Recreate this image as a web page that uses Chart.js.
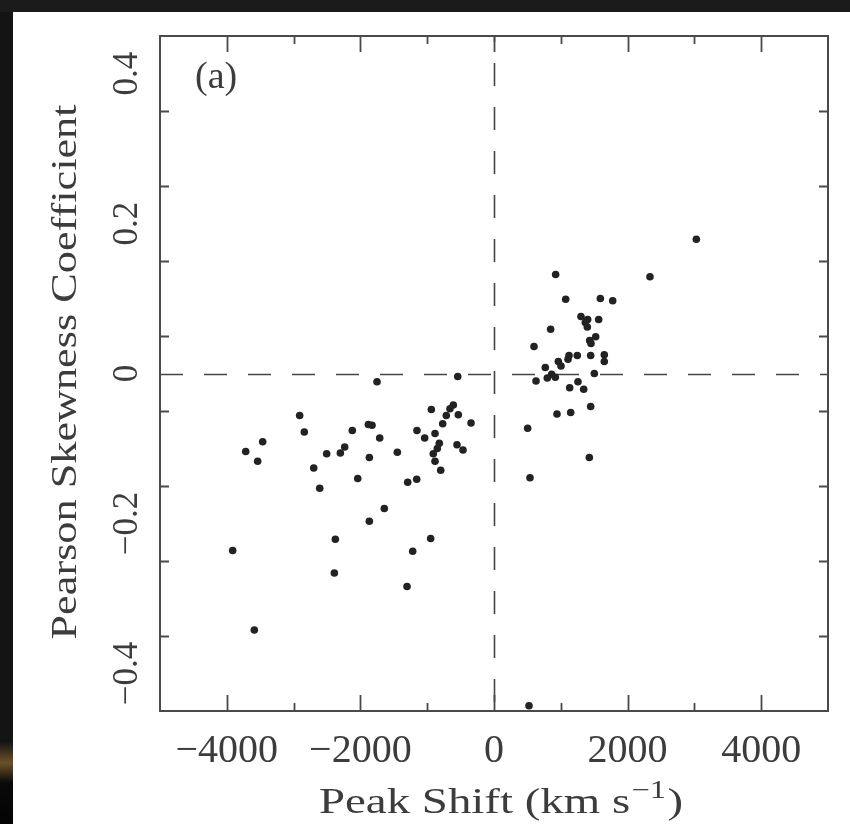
<!DOCTYPE html>
<html>
<head>
<meta charset="utf-8">
<title>Pearson skewness vs peak shift</title>
<script src="https://cdn.jsdelivr.net/npm/chart.js@4.4.1/dist/chart.umd.min.js"></script>
<style>
    html, body { margin: 0; padding: 0; background: #111; overflow: hidden; }
    canvas { display: block; }
</style>
</head>
<body>
<canvas id="skewChart" width="850" height="824"></canvas>
<script>
// peak shift (km/s) and Pearson skewness coefficient
const peakShift = [
    -543, -1751, -2909, -2840, -3463, -3717, -3538, -2699, -2609, -2505, -2300, -2235,
    -2121, -1881, -1826, -1866, -1711, -2040, -1642, -1866, -2375, -2390, -3912, -1302,
    -1217, -948, -1447, -1292, -1157, -1153, -1038, -938, -883, -819, -849, -909,
    -883, -798, -768, -714, -659, -609, -534, -344, -554, -464, -3588,
    524, 3029, 2335, 923, 1073, 1592, 1777, 1302, 1402, 1367, 1397, 1567,
    848, 1522, 1432, 1452, 599, 1123, 1108, 1247, 1447, 1651, 1651, 963,
    1003, 768, 629, 798, 863, 918, 1502, 1257, 1133, 1343, 943, 1148,
    1447, 504, 1427, 539
];
const pearsonSkew = [
    -0.004, -0.011, -0.056, -0.078, -0.091, -0.104, -0.117, -0.126, -0.153, -0.107, -0.106, -0.098,
    -0.076, -0.068, -0.069, -0.112, -0.086, -0.140, -0.180, -0.197, -0.221, -0.266, -0.236, -0.284,
    -0.237, -0.220, -0.105, -0.145, -0.141, -0.076, -0.086, -0.048, -0.080, -0.093, -0.100, -0.107,
    -0.117, -0.129, -0.067, -0.056, -0.047, -0.042, -0.055, -0.066, -0.095, -0.102, -0.342,
    -0.443, 0.179, 0.129, 0.132, 0.099, 0.100, 0.097, 0.076, 0.072, 0.068, 0.062, 0.072,
    0.059, 0.049, 0.044, 0.040, 0.036, 0.024, 0.019, 0.024, 0.024, 0.025, 0.016, 0.016,
    0.010, 0.008, -0.010, -0.006, -0.001, -0.005, 0.000, -0.011, -0.019, -0.021, -0.054, -0.052,
    -0.044, -0.073, -0.112, -0.139
];

// labelled ticks
const xTickValues = [-4000, -2000, 0, 2000, 4000];
const xTickLabels = ['\u22124000', '\u22122000', '0', '2000', '4000'];
const yTickValues = [-0.4, -0.2, 0, 0.2, 0.4];
const yTickLabels = ['\u22120.4', '\u22120.2', '0', '0.2', '0.4'];

const xTitle = 'Peak Shift (km s';
const xTitleSup = '\u22121';
const yTitle = 'Pearson Skewness Coefficient';
const panelLabel = '(a)';

const INK = '#3c3c3c';
const FRAME = '#4a4a4a';
const SERIF = '"Liberation Serif", "DejaVu Serif", serif';

function isMajor(v, list) {
    return list.some(m => Math.abs(m - v) < 1e-6);
}

// slide background + white page behind the figure
const pagePlugin = {
    id: 'page',
    beforeDraw(chart) {
        const ctx = chart.ctx;
        const w = chart.width, h = chart.height;
        ctx.save();
        ctx.fillStyle = '#fff';
        ctx.fillRect(0, 0, w, h);
        ctx.fillStyle = '#1b1b1b';
        ctx.fillRect(0, 0, w, 12);
        const g = ctx.createLinearGradient(0, 0, 0, h);
        g.addColorStop(0, '#141414');
        g.addColorStop(0.9, '#141414');
        g.addColorStop(0.926, '#6b5128');
        g.addColorStop(0.95, '#0a0a0a');
        g.addColorStop(1, '#030303');
        ctx.fillStyle = g;
        ctx.fillRect(0, 12, 13, h - 12);
        ctx.restore();
    }
};

// frame, inward ticks, zero lines and all text
const axesPlugin = {
    id: 'axesFrame',
    beforeDatasetsDraw(chart) {
        const { ctx, chartArea: a, scales: { x, y } } = chart;
        ctx.save();

        // dashed zero lines
        ctx.strokeStyle = '#444';
        ctx.lineWidth = 1.6;
        ctx.setLineDash([23, 21]);
        const y0 = Math.round(y.getPixelForValue(0)) + 0.5;
        ctx.lineDashOffset = 0;
        ctx.beginPath();
        ctx.moveTo(a.left, y0);
        ctx.lineTo(a.right, y0);
        ctx.stroke();
        const x0 = Math.round(x.getPixelForValue(0)) + 0.5;
        ctx.lineDashOffset = 17;
        ctx.beginPath();
        ctx.moveTo(x0, a.top);
        ctx.lineTo(x0, a.bottom);
        ctx.stroke();
        ctx.setLineDash([]);

        // frame
        ctx.strokeStyle = FRAME;
        ctx.lineWidth = 2;
        ctx.strokeRect(a.left, a.top, a.right - a.left, a.bottom - a.top);

        // ticks pointing inwards on all four sides
        ctx.lineWidth = 1.8;
        ctx.beginPath();
        x.ticks.forEach(t => {
            if (t.value <= x.min || t.value >= x.max) return;
            const px = Math.round(x.getPixelForValue(t.value)) + 0.5;
            const len = isMajor(t.value, xTickValues) ? 16 : 8;
            ctx.moveTo(px, a.bottom);
            ctx.lineTo(px, a.bottom - len);
            ctx.moveTo(px, a.top);
            ctx.lineTo(px, a.top + len);
        });
        y.ticks.forEach(t => {
            if (t.value <= y.min || t.value >= y.max) return;
            const py = Math.round(y.getPixelForValue(t.value)) + 0.5;
            const len = isMajor(t.value, yTickValues) ? 16 : 9;
            ctx.moveTo(a.left, py);
            ctx.lineTo(a.left + len, py);
            ctx.moveTo(a.right, py);
            ctx.lineTo(a.right - len, py);
        });
        ctx.stroke();

        ctx.fillStyle = INK;

        // x tick labels
        ctx.font = '40px ' + SERIF;
        ctx.textAlign = 'center';
        ctx.textBaseline = 'alphabetic';
        xTickValues.forEach((v, i) => {
            ctx.fillText(xTickLabels[i], x.getPixelForValue(v), 762);
        });

        // y tick labels, rotated
        ctx.font = '35px ' + SERIF;
        yTickValues.forEach((v, i) => {
            ctx.save();
            ctx.translate(137, y.getPixelForValue(v));
            ctx.rotate(-Math.PI / 2);
            ctx.textAlign = 'center';
            ctx.fillText(yTickLabels[i], 0, 0);
            ctx.restore();
        });

        // x title with superscript, fitted to the original width
        ctx.save();
        ctx.font = '36px ' + SERIF;
        const mainW = ctx.measureText(xTitle).width;
        ctx.font = '25px ' + SERIF;
        const supW = ctx.measureText(xTitleSup).width;
        ctx.font = '36px ' + SERIF;
        const closeW = ctx.measureText(')').width;
        const totalW = mainW + supW + 2 + closeW;
        const sx = 364 / totalW;
        ctx.translate(319, 813);
        ctx.scale(sx, 1);
        ctx.textAlign = 'left';
        ctx.fillText(xTitle, 0, 0);
        ctx.font = '25px ' + SERIF;
        ctx.fillText(xTitleSup, mainW + 1, -15);
        ctx.font = '36px ' + SERIF;
        ctx.fillText(')', mainW + supW + 2, 0);
        ctx.restore();

        // y title, rotated
        ctx.save();
        ctx.font = '36px ' + SERIF;
        const yw = ctx.measureText(yTitle).width;
        ctx.translate(76, 372);
        ctx.rotate(-Math.PI / 2);
        ctx.scale(535 / yw, 1);
        ctx.textAlign = 'center';
        ctx.fillText(yTitle, 0, 0);
        ctx.restore();

        // panel label
        ctx.font = '38px ' + SERIF;
        ctx.textAlign = 'left';
        ctx.fillText(panelLabel, 195, 88);

        ctx.restore();
    }
};

const points = peakShift.map((v, i) => ({ x: v, y: pearsonSkew[i] }));

new Chart(document.getElementById('skewChart'), {
    type: 'scatter',
    data: {
        datasets: [{
            label: 'Pearson skewness',
            data: points,
            backgroundColor: '#222',
            borderWidth: 0,
            pointRadius: 3.8,
            pointHoverRadius: 3.8
        }]
    },
    options: {
        responsive: false,
        animation: false,
        devicePixelRatio: 1,
        // the two hidden axes still take 8px each, so pad a bit less
        layout: { padding: { left: 152, top: 36, right: 22, bottom: 105 } },
        plugins: {
            legend: { display: false },
            tooltip: { enabled: false }
        },
        scales: {
            x: {
                type: 'linear',
                min: -5000,
                max: 5000,
                grid: { display: false },
                border: { display: false },
                ticks: { display: false, stepSize: 1000 },
                title: { display: false }
            },
            y: {
                type: 'linear',
                min: -0.45,
                max: 0.45,
                grid: { display: false },
                border: { display: false },
                ticks: { display: false, stepSize: 0.1 },
                title: { display: false }
            }
        }
    },
    plugins: [pagePlugin, axesPlugin]
});
</script>
</body>
</html>
